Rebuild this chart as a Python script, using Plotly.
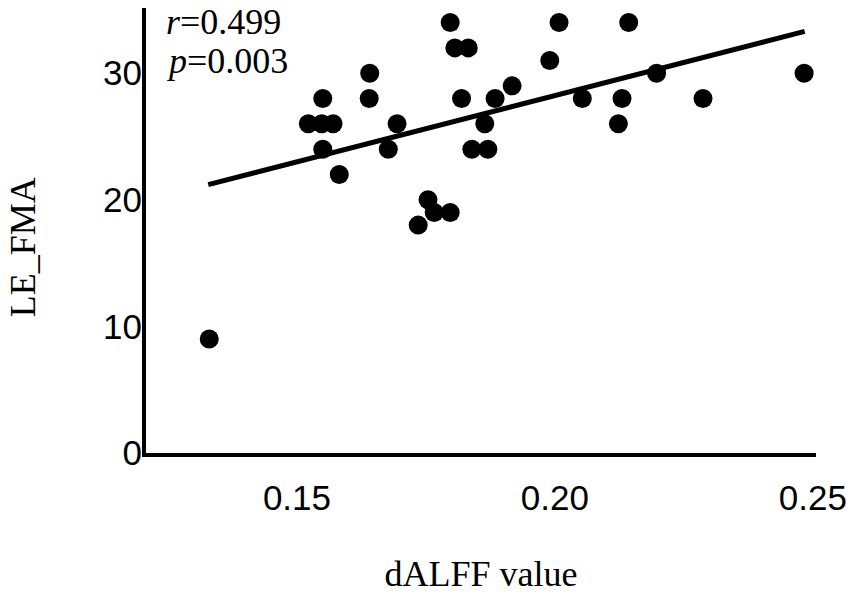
import plotly.graph_objects as go

# dALFF value vs LE_FMA
dalff = [0.1330, 0.1522, 0.1548, 0.1570, 0.1550, 0.1550, 0.1582, 0.1640, 0.1641,
         0.1677, 0.1694, 0.1735, 0.1754, 0.1766, 0.1797, 0.1797, 0.1806, 0.1832,
         0.1819, 0.1839, 0.1870, 0.1864, 0.1884, 0.1917, 0.1990, 0.2008, 0.2053,
         0.2123, 0.2130, 0.2143, 0.2197, 0.2287, 0.2483]
le_fma = [9, 26, 26, 26, 28, 24, 22, 28, 30,
          24, 26, 18, 20, 19, 19, 34, 32, 32,
          28, 24, 24, 26, 28, 29, 31, 34, 28,
          26, 28, 34, 30, 28, 30]

# fitted line end points
fit_x = [0.1328, 0.2484]
fit_y = [21.2, 33.3]

x_ticks = [0.15, 0.20, 0.25]
x_tick_text = ["0.15", "0.20", "0.25"]
y_ticks = [0, 10, 20, 30]

serif = "Liberation Serif, Times New Roman, serif"
sans = "Liberation Sans, Arial, sans-serif"

fig = go.Figure()
fig.add_trace(go.Scatter(x=fit_x, y=fit_y, mode="lines",
                         line=dict(color="black", width=5), showlegend=False))
fig.add_trace(go.Scatter(x=dalff, y=le_fma, mode="markers",
                         marker=dict(color="black", size=19), showlegend=False))

# page body has an 8px margin, so the figure is a bit smaller than the window
fig.update_layout(
    width=846, height=588,
    margin=dict(l=138, r=38, t=0, b=143),
    paper_bgcolor="white", plot_bgcolor="white",
    font=dict(family=sans, size=35, color="black"),
)
fig.update_xaxes(range=[0.12074, 0.2506], tickvals=x_ticks, ticktext=x_tick_text,
                 showgrid=False, zeroline=False, showline=True, linecolor="black",
                 linewidth=4, ticks="", ticklabelstandoff=11,
                 title=dict(text="dALFF value", font=dict(family=serif, size=36), standoff=46))
fig.update_yaxes(range=[0, 35.15], tickvals=y_ticks, showgrid=False, zeroline=False,
                 showline=True, linecolor="black", linewidth=4, ticks="",
                 ticklabelstandoff=-7)

fig.add_annotation(text="LE_FMA", xref="paper", yref="paper", x=-0.183, y=0.463,
                   xanchor="center", yanchor="middle", textangle=-90, showarrow=False,
                   font=dict(family=serif, size=36))
fig.add_annotation(text="<i>r</i>=0.499", xref="paper", yref="paper", x=0.027, y=0.968,
                   xanchor="left", yanchor="middle", showarrow=False,
                   font=dict(family=serif, size=36))
fig.add_annotation(text="<i>p</i>=0.003", xref="paper", yref="paper", x=0.027, y=0.880,
                   xanchor="left", yanchor="middle", showarrow=False,
                   font=dict(family=serif, size=36))

fig.write_html("out.html")
